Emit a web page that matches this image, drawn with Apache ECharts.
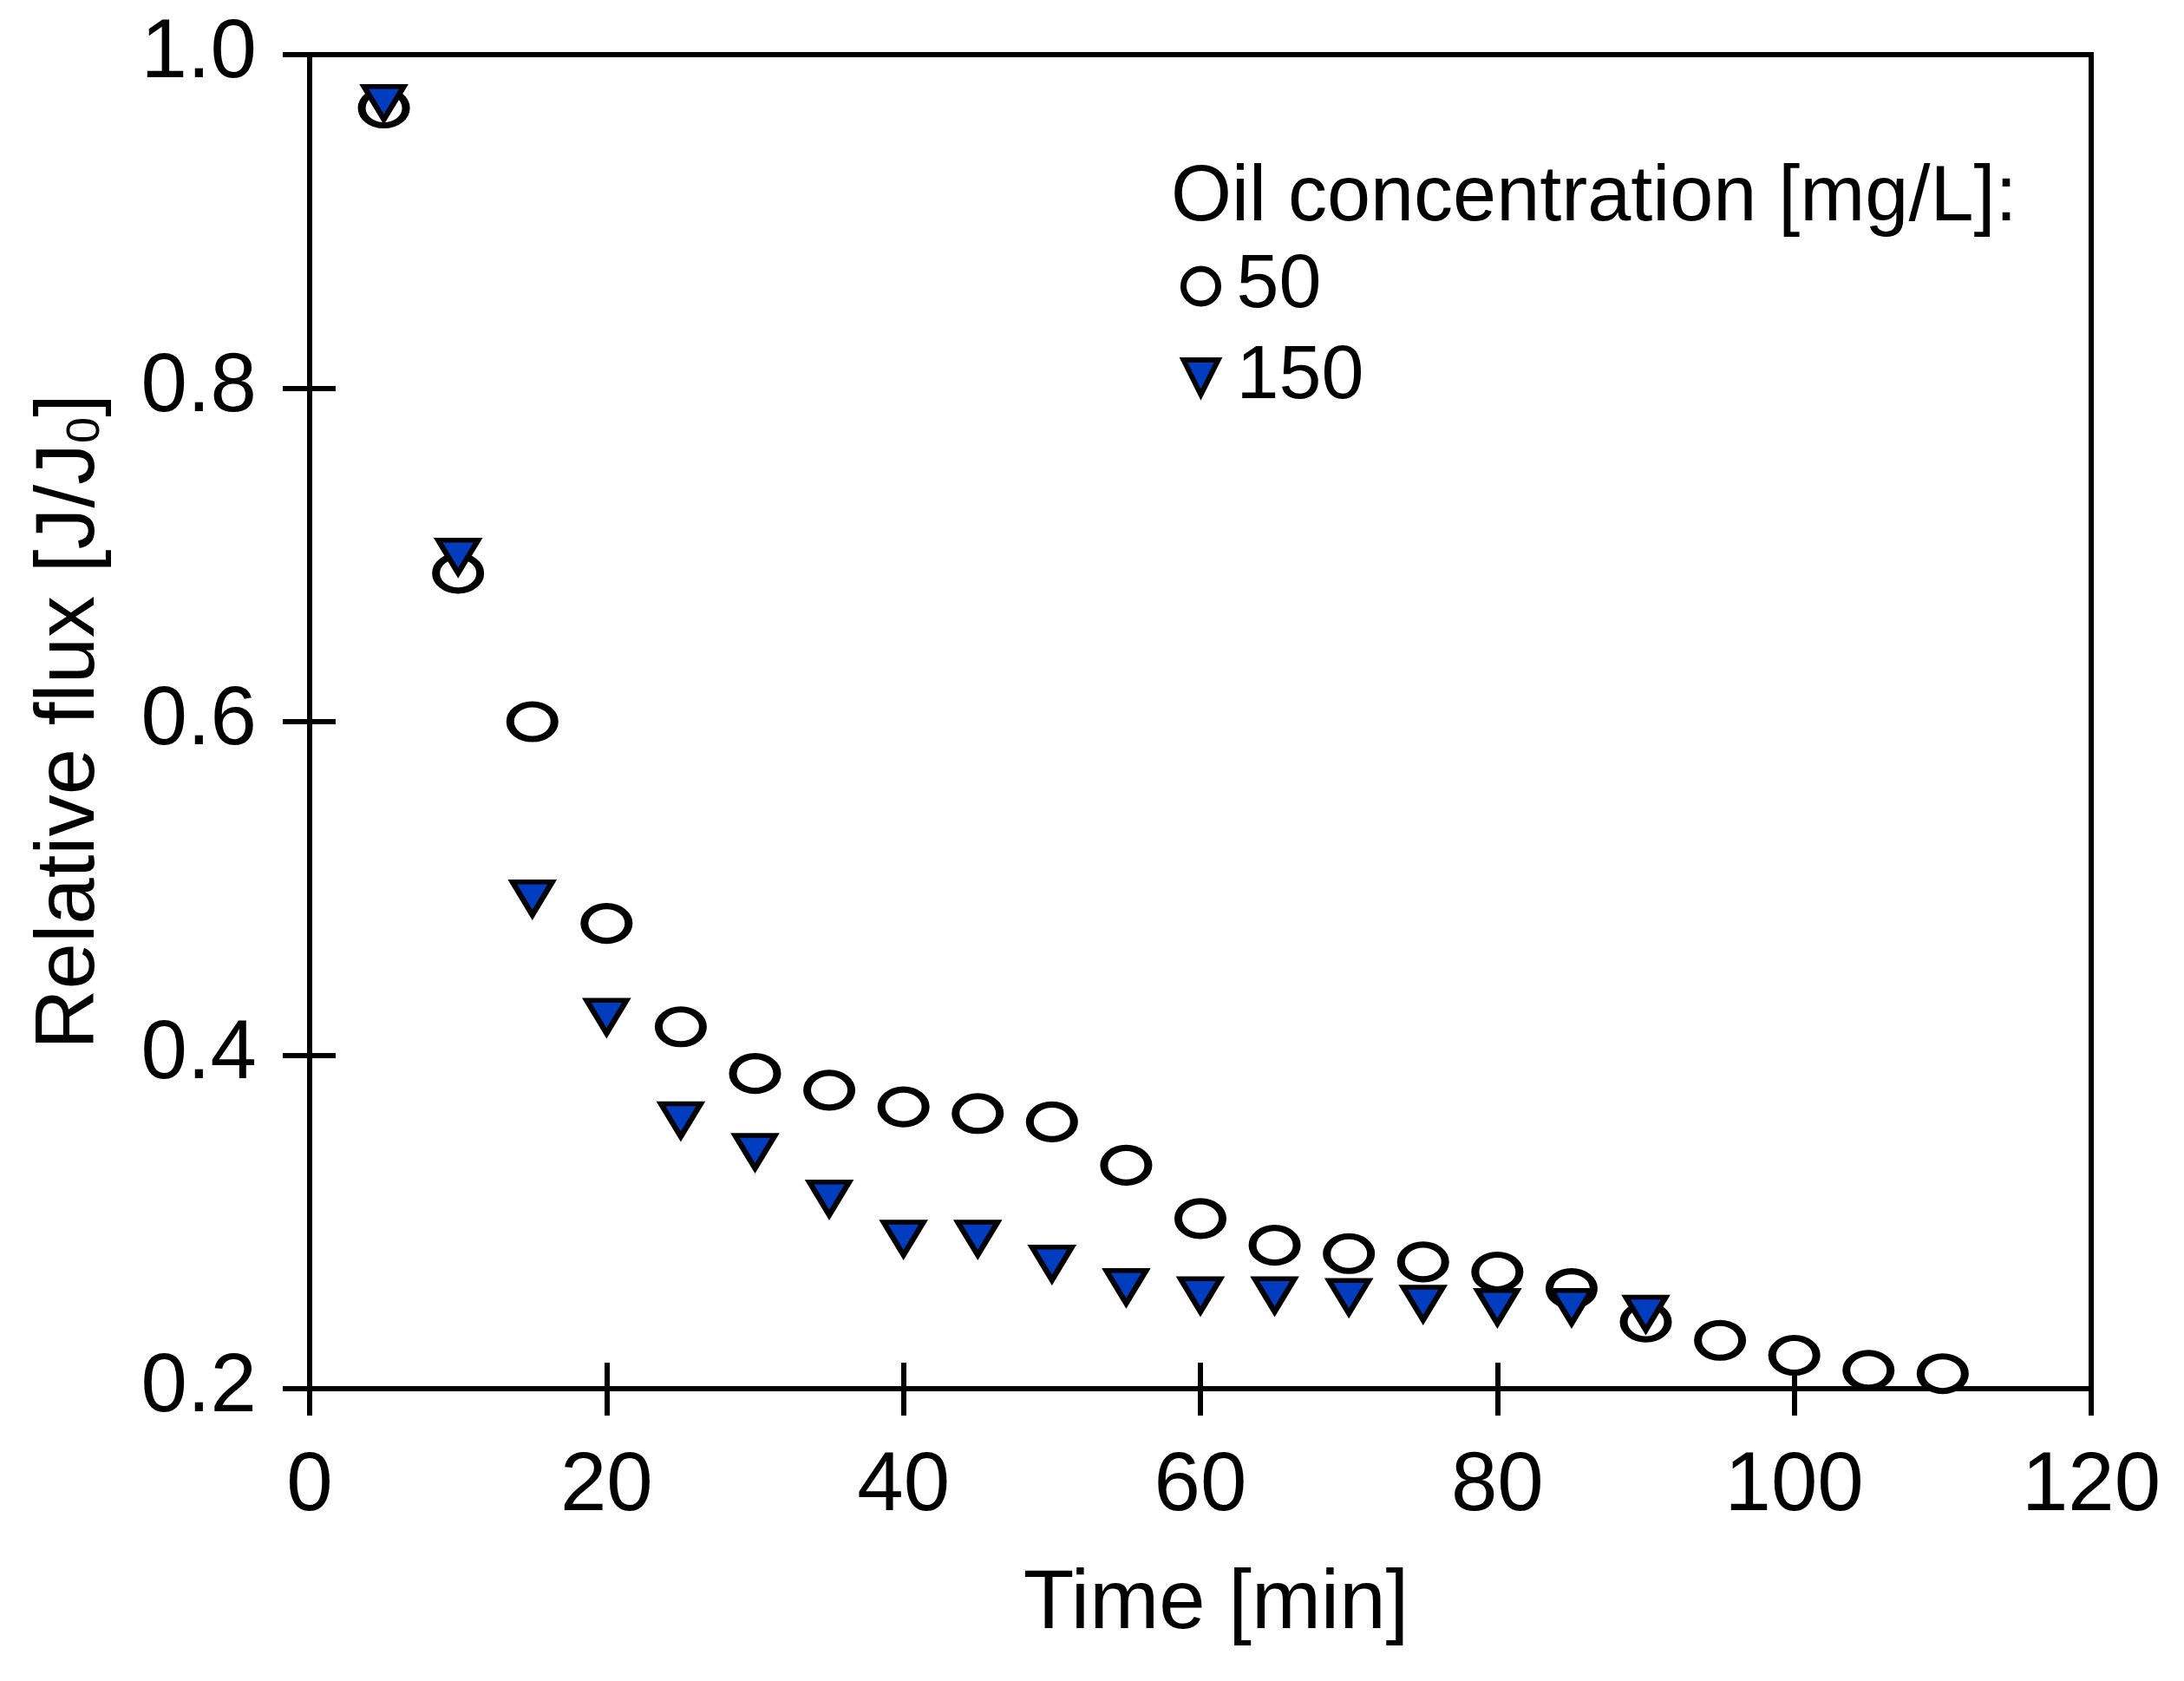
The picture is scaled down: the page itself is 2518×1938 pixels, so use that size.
<!DOCTYPE html>
<html>
<head>
<meta charset="utf-8">
<script src="https://cdn.jsdelivr.net/npm/echarts@6/dist/echarts.min.js"></script>
<style>
html,body{margin:0;padding:0;background:#fff;}
#chart{width:2518px;height:1938px;}
</style>
</head>
<body>
<div id="chart"></div>
<script>
// ---- data ----
const times50 = [5, 10, 15, 20, 25, 30, 35, 40, 45, 50, 55, 60, 65, 70, 75, 80, 85, 90, 95, 100, 105, 110];
const flux50  = [0.968, 0.689, 0.600, 0.479, 0.417, 0.389, 0.379, 0.369, 0.365, 0.360, 0.334, 0.302, 0.286, 0.281, 0.276, 0.270, 0.260, 0.240, 0.229, 0.220, 0.211, 0.209];
const times150 = [5, 10, 15, 20, 25, 30, 35, 40, 45, 50, 55, 60, 65, 70, 75, 80, 85, 90];
const flux150  = [0.971, 0.699, 0.494, 0.423, 0.361, 0.342, 0.314, 0.290, 0.290, 0.275, 0.261, 0.256, 0.256, 0.255, 0.251, 0.249, 0.249, 0.245];
const seriesNames = ['50', '150'];
const legendTitle = 'Oil concentration [mg/L]:';
const xTitle = 'Time [min]';
const yTitle = 'Relative flux [J/J{s|0}]';
const xTicks = {min: 0, max: 120, interval: 20};
const yTicks = {min: 0.2, max: 1.0, interval: 0.2};

const FONT = "'Liberation Sans', Arial, Helvetica, sans-serif";
const BLUE = '#003CBE';
const ELLIPSE = 'path://M0,50 A50,50 0 1,1 100,50 A50,50 0 1,1 0,50 Z';
const TRI_DOWN = 'path://M0,0 L100,0 L50,100 Z';

const pts50 = times50.map((t, i) => [t, flux50[i]]);
const pts150 = times150.map((t, i) => [t, flux150[i]]);

const chart = echarts.init(document.getElementById('chart'), null, {renderer: 'canvas'});

const baseX = {
  type: 'value', min: xTicks.min, max: xTicks.max, interval: xTicks.interval,
  splitLine: {show: false}
};
const baseY = {
  type: 'value', min: yTicks.min, max: yTicks.max, interval: yTicks.interval,
  splitLine: {show: false}
};

chart.setOption({
  animation: false,
  backgroundColor: '#fff',
  grid: {left: 357, right: 107, top: 63, bottom: 337, show: true, borderColor: '#000', borderWidth: 6, backgroundColor: 'transparent'},
  title: {
    text: legendTitle, left: 1350, top: 184, padding: 0,
    textStyle: {fontSize: 90, fontWeight: 'normal', fontFamily: FONT, color: '#000'}
  },
  legend: {
    orient: 'vertical', left: 1361, top: 286, padding: 0, itemGap: 17,
    itemWidth: 48, itemHeight: 40,
    textStyle: {fontSize: 88, fontFamily: FONT, color: '#000', padding: [0, 0, 0, 12]},
    data: [
      {name: seriesNames[0], icon: ELLIPSE, itemStyle: {color: '#fff', borderColor: '#000', borderWidth: 7}},
      {name: seriesNames[1], icon: TRI_DOWN, itemStyle: {color: BLUE, borderColor: '#000', borderWidth: 6, borderJoin: 'miter'}}
    ]
  },
  xAxis: [
    Object.assign({}, baseX, {
      position: 'bottom',
      name: xTitle, nameLocation: 'middle', nameGap: 202,
      nameTextStyle: {fontSize: 96, fontFamily: FONT, color: '#000', padding: [0, 0, 0, 36]},
      axisLine: {show: true, onZero: false, lineStyle: {color: '#000', width: 6}},
      axisTick: {show: true, inside: false, length: 31, lineStyle: {color: '#000', width: 6}},
      axisLabel: {show: true, margin: 66, fontSize: 96, fontFamily: FONT, color: '#000'}
    }),
    Object.assign({}, baseX, {
      position: 'bottom',
      axisLine: {show: false},
      axisTick: {show: true, inside: true, length: 30, lineStyle: {color: '#000', width: 6}},
      axisLabel: {show: false}
    })
  ],
  yAxis: [
    Object.assign({}, baseY, {
      position: 'left',
      name: yTitle, nameLocation: 'middle', nameGap: 227, nameRotate: 90,
      nameTextStyle: {fontSize: 96, fontFamily: FONT, color: '#000',
        rich: {s: {fontSize: 54, fontFamily: FONT, color: '#000', verticalAlign: 'bottom', padding: [0, 0, 4, 0]}}},
      axisLine: {show: true, onZero: false, lineStyle: {color: '#000', width: 6}},
      axisTick: {show: true, inside: false, length: 31, lineStyle: {color: '#000', width: 6}},
      axisLabel: {show: true, margin: 61, fontSize: 96, fontFamily: FONT, color: '#000',
        formatter: v => v.toFixed(1)}
    }),
    Object.assign({}, baseY, {
      position: 'left',
      axisLine: {show: false},
      axisTick: {show: true, inside: true, length: 30, lineStyle: {color: '#000', width: 6}},
      axisLabel: {show: false}
    })
  ],
  series: [
    {
      name: seriesNames[0], type: 'scatter', xAxisIndex: 0, yAxisIndex: 0,
      data: pts50, symbol: ELLIPSE, symbolSize: [51, 40],
      itemStyle: {color: '#fff', borderColor: '#000', borderWidth: 8, opacity: 1},
      emphasis: {disabled: true}, z: 3
    },
    {
      name: seriesNames[1], type: 'scatter', xAxisIndex: 0, yAxisIndex: 0,
      data: pts150, symbol: TRI_DOWN, symbolSize: [46, 38],
      itemStyle: {color: BLUE, borderColor: '#000', borderWidth: 6, borderJoin: 'miter', opacity: 1},
      emphasis: {disabled: true}, z: 4
    }
  ]
});
</script>
</body>
</html>
